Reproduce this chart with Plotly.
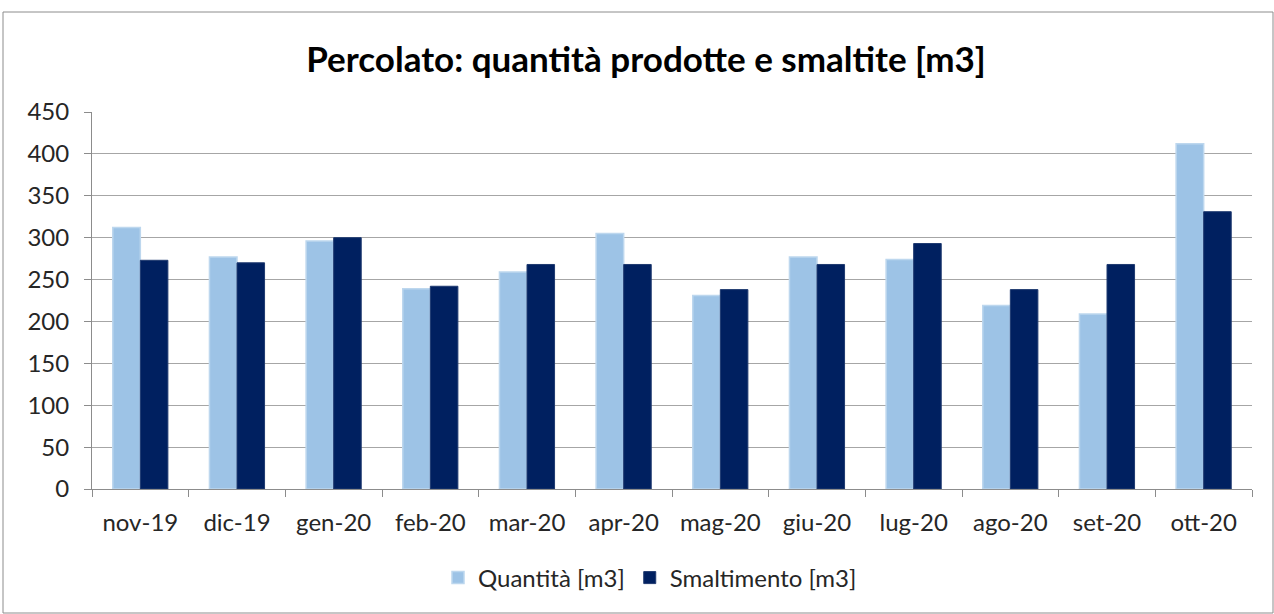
import plotly.graph_objects as go

categories = ["nov-19", "dic-19", "gen-20", "feb-20", "mar-20", "apr-20",
              "mag-20", "giu-20", "lug-20", "ago-20", "set-20", "ott-20"]
quantita = [312, 277, 296, 239, 259, 305, 231, 277, 274, 219, 209, 412]
smaltimento = [273, 270, 300, 242, 268, 268, 238, 268, 293, 238, 268, 331]
y_ticks = [0, 50, 100, 150, 200, 250, 300, 350, 400, 450]

FONT = "Lato, 'Open Sans', sans-serif"

fig = go.Figure()
fig.add_trace(go.Bar(
    x=categories, y=quantita, name="Quantità [m3]",
    marker=dict(color="#9DC3E6", line=dict(color="#BDD7EE", width=1.5)),
))
fig.add_trace(go.Bar(
    x=categories, y=smaltimento, name="Smaltimento [m3]",
    marker=dict(color="#002060", line=dict(color="#1F3A70", width=1)),
))

W, H = 1274, 614
ml, mr, mt, mb = 92, 22, 112, 125
pw, ph = W - ml - mr, H - mt - mb

def px_x(p):
    return (p - ml) / pw

def px_y(p):
    return (H - mb - p) / ph

fig.update_layout(
    width=W, height=H,
    margin=dict(l=ml, r=mr, t=mt, b=mb),
    paper_bgcolor="white", plot_bgcolor="white",
    barmode="group", bargap=0.43, bargroupgap=0.0,
    title=dict(text="<b>Percolato: quantità prodotte e smaltite [m3]</b>",
               x=px_x(646), xanchor="center", y=1 - 60 / H, yanchor="middle",
               font=dict(family=FONT, size=35, color="#000000")),
    font=dict(family=FONT, size=24, color="#262626"),
    legend=dict(orientation="h", x=px_x(650), xanchor="center",
                y=px_y(578), yanchor="middle",
                font=dict(family=FONT, size=24, color="#262626"),
                traceorder="normal", itemwidth=30),
    showlegend=True,
    shapes=[dict(type="rect", xref="paper", yref="paper",
                 x0=px_x(3), x1=px_x(1273), y0=px_y(613), y1=px_y(12),
                 line=dict(color="#8c8c8c", width=1), layer="below")],
)
fig.update_layout(title_xref="paper")
fig.update_xaxes(
    showline=True, linecolor="#8c8c8c", linewidth=1,
    ticks="outside", tickson="boundaries", ticklen=7, tickcolor="#8c8c8c",
    showgrid=False, tickfont=dict(size=24, color="#262626"),
    ticklabelstandoff=12,
)
fig.update_yaxes(
    range=[0, 450], tickvals=y_ticks, showline=True, linecolor="#8c8c8c",
    linewidth=1, ticks="outside", ticklen=7, tickcolor="#8c8c8c",
    showgrid=True, gridcolor="#a6a6a6", gridwidth=1,
    tickfont=dict(size=24, color="#262626"), zeroline=False,
    ticklabelstandoff=10,
)

fig.write_html("out.html", config={"displayModeBar": False},
               post_script="document.body.style.margin='0';")
